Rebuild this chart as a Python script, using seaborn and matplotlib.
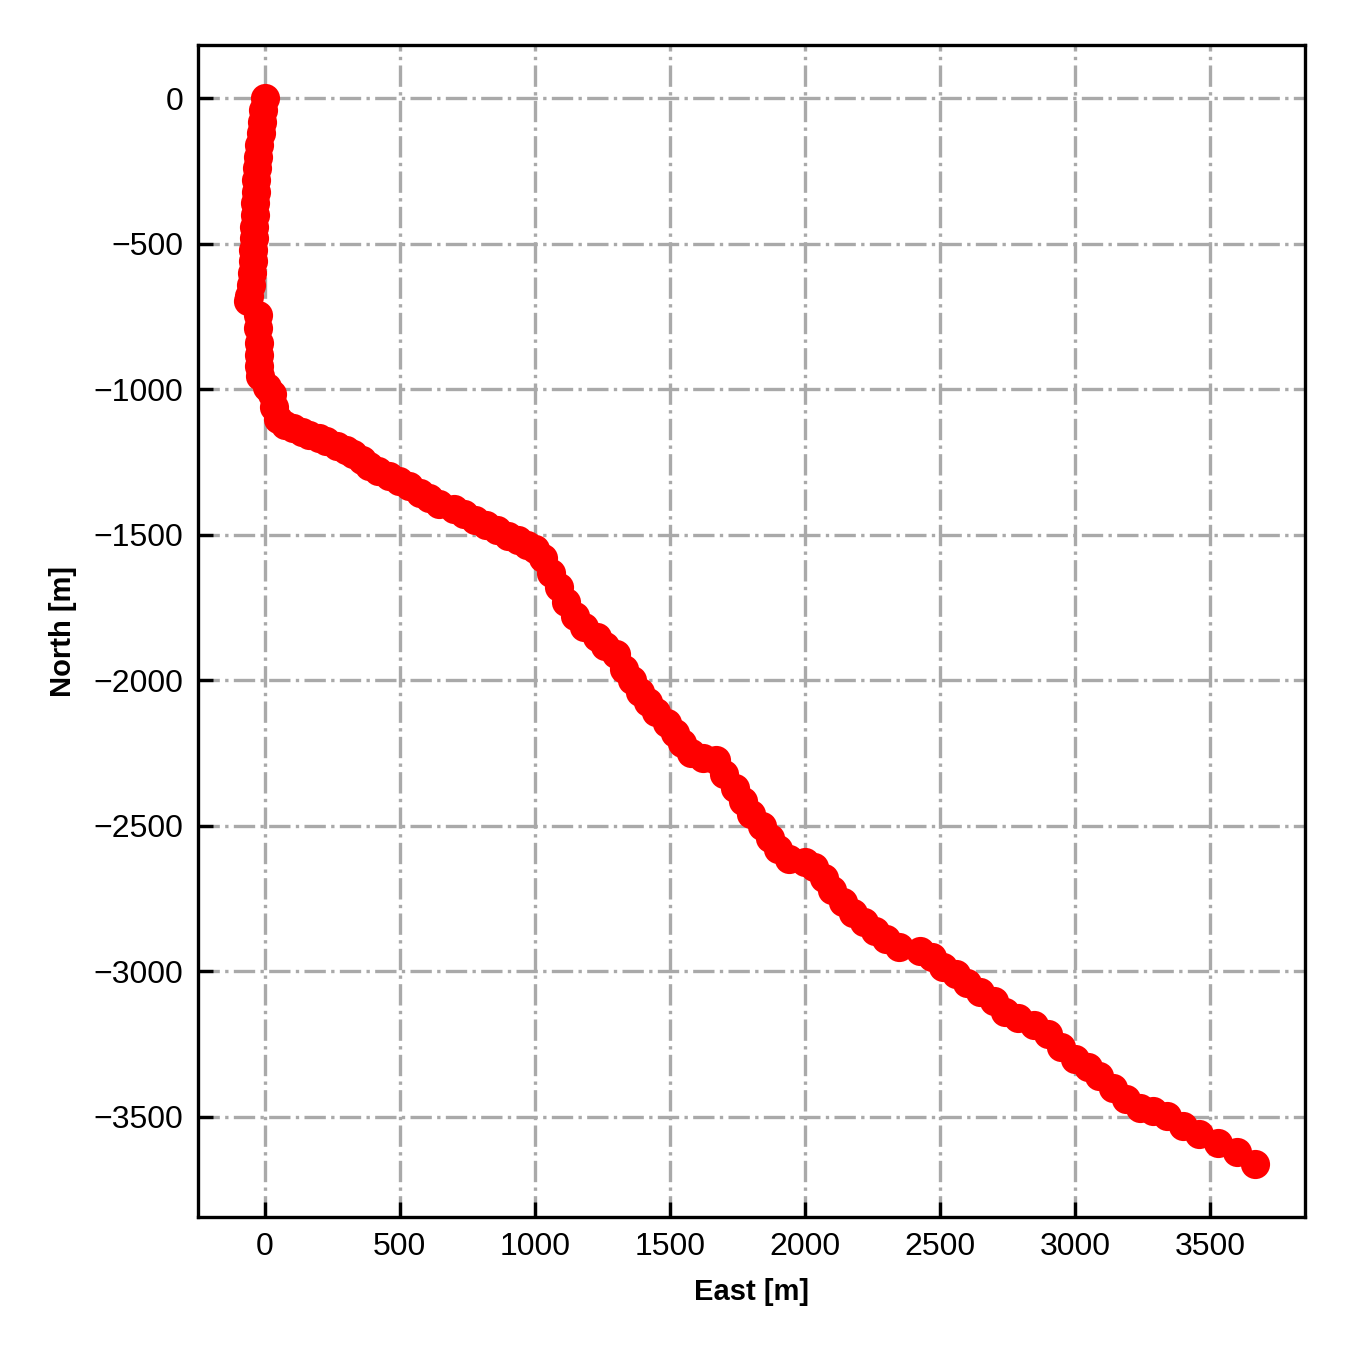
import numpy as np
import pandas as pd
import matplotlib
matplotlib.use("Agg")
import matplotlib.pyplot as plt
import seaborn as sns

# well path in plan view (metres)
east = [0, -4, -9, -14, -19, -24, -29, -31, -33, -35, -37, -38, -40, -42, -44, -47, -51, -56, -60,
        -24, -23, -22, -20, -19, -17, 10, 28, 35, 48, 75, 106, 140, 166, 200, 229, 270, 300, 328,
        360, 388, 420, 460, 499, 535, 575, 610, 647, 700, 740, 780, 820, 860, 900, 940, 970, 1000,
        1030, 1060, 1090, 1115, 1150, 1184, 1230, 1260, 1300, 1330, 1360, 1390, 1420, 1450, 1490,
        1520, 1545, 1580, 1625, 1670, 1700, 1740, 1770, 1800, 1840, 1870, 1900, 1940, 2000, 2033,
        2070, 2100, 2140, 2180, 2220, 2260, 2300, 2350, 2428, 2470, 2510, 2560, 2600, 2650, 2700,
        2740, 2790, 2850, 2900, 2950, 3000, 3050, 3090, 3140, 3190, 3240, 3290, 3340, 3400, 3460,
        3530, 3600, 3666]
north = [0, -40, -80, -120, -160, -200, -240, -280, -320, -360, -400, -440, -480, -520, -560, -600,
         -640, -680, -695, -745, -790, -840, -880, -920, -955, -990, -1015, -1060, -1100, -1122,
         -1132, -1145, -1158, -1167, -1176, -1195, -1208, -1221, -1243, -1262, -1280, -1298, -1313,
         -1333, -1355, -1373, -1392, -1410, -1428, -1448, -1467, -1484, -1502, -1518, -1533, -1548,
         -1580, -1630, -1680, -1730, -1780, -1815, -1850, -1880, -1910, -1960, -2000, -2040, -2075,
         -2110, -2145, -2180, -2215, -2250, -2268, -2275, -2320, -2370, -2415, -2460, -2500, -2540,
         -2580, -2615, -2625, -2640, -2680, -2720, -2760, -2800, -2830, -2860, -2890, -2915, -2930,
         -2950, -2985, -3010, -3040, -3070, -3100, -3140, -3160, -3185, -3215, -3260, -3300, -3330,
         -3360, -3400, -3440, -3470, -3480, -3496, -3530, -3558, -3590, -3620, -3661]

well = pd.DataFrame({"East": east, "North": north})

sns.set_style("ticks")
plt.rcParams["font.family"] = ["Liberation Sans", "DejaVu Sans"]
plt.rcParams["text.color"] = "black"
plt.rcParams["axes.labelcolor"] = "black"

fig = plt.figure(figsize=(4.5, 4.5), dpi=300)
ax = fig.add_axes([0.1467, 0.0985, 0.82, 0.868])

sns.lineplot(data=well, x="East", y="North", sort=False, estimator=None, ax=ax,
             color="red", marker="o", markersize=7, markeredgewidth=0, linewidth=2.5)

ax.grid(True, color="darkgray", linestyle="-.", linewidth=0.8)
ax.set_axisbelow(True)
ax.tick_params(direction="in", length=3.5, width=0.8, labelsize=7.7, colors="black")
for s in ax.spines.values():
    s.set_linewidth(0.8)
    s.set_color("black")

ax.set_xlabel("East [m]", fontsize=7, fontweight="bold")
ax.set_ylabel("North [m]", fontsize=7, fontweight="bold")

fig.savefig("out.png", dpi=300)
